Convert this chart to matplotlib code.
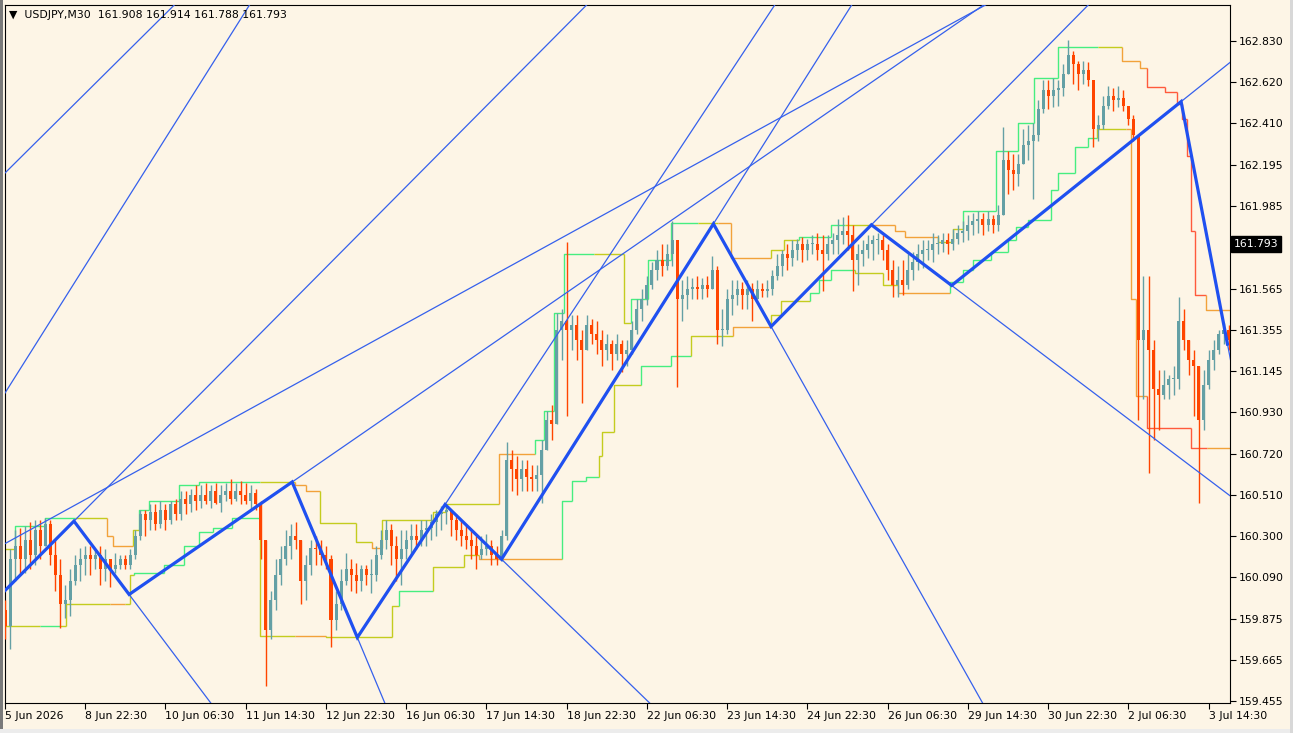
import numpy as np
import matplotlib.pyplot as plt
import matplotlib.transforms as mtransforms
from matplotlib.patches import Rectangle

BG = "#FDF5E6"
BULL = "#64A0A5"
BEAR = "#FF4500"
ZZ_COL = "#1F50F0"
RAY_COL = "#3560EC"
CH = {"G": "#46EE80", "Y": "#C4CC1E", "O": "#F2A23A", "R": "#FF5A3C"}

BAR_STEP = 4  # M30 bars per drawn candle
X_END = 977

# --- price data (USDJPY, one candle per 4 x M30) ---
open0 = 159.92
close = [
    159.84, 160.18, 160.25, 160.18, 160.28, 160.20, 160.33, 160.25, 160.36, 160.20,
    160.10, 159.95, 159.97, 160.07, 160.15, 160.18, 160.20, 160.18, 160.20, 160.13,
    160.18, 160.13, 160.15, 160.18, 160.15, 160.20, 160.30, 160.41, 160.38, 160.42,
    160.36, 160.43, 160.38, 160.46, 160.41, 160.49, 160.46, 160.51, 160.48, 160.51,
    160.48, 160.53, 160.47, 160.51, 160.53, 160.49, 160.53, 160.51, 160.48, 160.52,
    160.46, 160.28, 159.82, 159.97, 160.10, 160.18, 160.25, 160.30, 160.28, 160.07,
    160.15, 160.24, 160.23, 160.20, 160.18, 159.87, 159.95, 160.07, 160.13, 160.10,
    160.07, 160.13, 160.10, 160.10, 160.20, 160.28, 160.33, 160.25, 160.18, 160.23,
    160.28, 160.30, 160.28, 160.33, 160.34, 160.37, 160.41, 160.42, 160.43, 160.38,
    160.33, 160.30, 160.28, 160.25, 160.20, 160.23, 160.25, 160.20, 160.18, 160.30,
    160.69, 160.64, 160.59, 160.64, 160.60, 160.59, 160.61, 160.74, 160.89, 160.87,
    161.35, 161.40, 161.35, 161.38, 161.30, 161.25, 161.38, 161.33, 161.30, 161.25,
    161.28, 161.23, 161.28, 161.23, 161.25, 161.35, 161.46, 161.51, 161.58, 161.66,
    161.71, 161.68, 161.74, 161.81, 161.51, 161.53, 161.56, 161.57, 161.56, 161.58,
    161.56, 161.66, 161.35, 161.35, 161.51, 161.53, 161.56, 161.53, 161.56, 161.51,
    161.56, 161.55, 161.56, 161.63, 161.68, 161.74, 161.72, 161.76, 161.79, 161.76,
    161.79, 161.79, 161.76, 161.74, 161.79, 161.81, 161.84, 161.86, 161.84, 161.71,
    161.74, 161.76, 161.79, 161.81, 161.81, 161.76, 161.66, 161.58, 161.61, 161.58,
    161.66, 161.70, 161.74, 161.76, 161.76, 161.79, 161.79, 161.81, 161.79, 161.82,
    161.85, 161.86, 161.89, 161.91, 161.92, 161.89, 161.92, 161.89, 161.94, 162.22,
    162.17, 162.15, 162.20, 162.30, 162.32, 162.35, 162.48, 162.58, 162.55, 162.58,
    162.59, 162.66, 162.76, 162.71, 162.66, 162.68, 162.63, 162.38, 162.40, 162.50,
    162.55, 162.53, 162.54, 162.50, 162.43, 162.35, 161.30, 161.35, 161.25, 161.05,
    161.02, 161.07, 161.10, 161.10, 161.40, 161.30, 161.20, 161.17, 160.89, 161.07,
    161.20, 161.25, 161.33, 161.35, 161.30,
]
high = [
    159.97, 160.23, 160.33, 160.34, 160.35, 160.37, 160.38, 160.38, 160.39, 160.38,
    160.28, 160.18, 160.05, 160.13, 160.20, 160.24, 160.25, 160.25, 160.23, 160.25,
    160.23, 160.18, 160.21, 160.20, 160.20, 160.23, 160.33, 160.43, 160.43, 160.46,
    160.46, 160.48, 160.46, 160.48, 160.49, 160.53, 160.53, 160.54, 160.56, 160.56,
    160.57, 160.56, 160.57, 160.56, 160.57, 160.59, 160.57, 160.58, 160.57, 160.56,
    160.54, 160.48, 160.28, 160.02, 160.18, 160.25, 160.33, 160.36, 160.37, 160.28,
    160.20, 160.28, 160.30, 160.28, 160.25, 160.20, 160.02, 160.13, 160.21, 160.18,
    160.16, 160.15, 160.15, 160.18, 160.25, 160.33, 160.38, 160.36, 160.30, 160.33,
    160.33, 160.36, 160.36, 160.38, 160.38, 160.41, 160.43, 160.45, 160.46, 160.43,
    160.41, 160.38, 160.36, 160.33, 160.30, 160.30, 160.31, 160.28, 160.25, 160.33,
    160.78, 160.74, 160.71, 160.69, 160.69, 160.66, 160.66, 160.79, 160.94, 160.97,
    161.44, 161.46, 161.80, 161.43, 161.43, 161.35, 161.43, 161.41, 161.40, 161.35,
    161.33, 161.30, 161.33, 161.30, 161.30, 161.40, 161.51, 161.56, 161.63, 161.70,
    161.76, 161.79, 161.79, 161.91, 161.81, 161.61, 161.63, 161.62, 161.63, 161.62,
    161.63, 161.73, 161.68, 161.46, 161.56, 161.61, 161.61, 161.60, 161.61, 161.59,
    161.61, 161.59, 161.61, 161.66, 161.74, 161.76, 161.79, 161.81, 161.82, 161.83,
    161.82, 161.84, 161.85, 161.84, 161.84, 161.85, 161.92, 161.93, 161.94, 161.89,
    161.79, 161.81, 161.84, 161.84, 161.85, 161.84, 161.79, 161.71, 161.68, 161.71,
    161.74, 161.75, 161.79, 161.81, 161.81, 161.85, 161.84, 161.85, 161.85, 161.87,
    161.89, 161.91, 161.94, 161.95, 161.96, 161.95, 161.96, 161.94, 161.99, 162.39,
    162.27, 162.25, 162.25, 162.38, 162.40, 162.41, 162.53, 162.63, 162.63, 162.64,
    162.63, 162.71, 162.835, 162.78, 162.73, 162.73, 162.72, 162.63, 162.45, 162.55,
    162.60, 162.59, 162.60, 162.58, 162.50, 162.45, 162.35, 161.63, 161.63, 161.30,
    161.15, 161.15, 161.12, 161.17, 161.52, 161.46, 161.28, 161.25, 161.15, 161.15,
    161.25, 161.30, 161.35, 161.39, 161.38,
]
low = [
    159.77, 159.72, 160.07, 160.10, 160.11, 160.13, 160.15, 160.18, 160.25, 160.15,
    160.02, 159.83, 159.88, 159.89, 160.05, 160.07, 160.10, 160.10, 160.13, 160.05,
    160.07, 160.04, 160.11, 160.13, 160.13, 160.13, 160.18, 160.28, 160.30, 160.33,
    160.33, 160.34, 160.33, 160.36, 160.38, 160.38, 160.41, 160.42, 160.43, 160.44,
    160.46, 160.44, 160.46, 160.42, 160.48, 160.46, 160.48, 160.46, 160.46, 160.43,
    160.43, 160.18, 159.53, 159.77, 159.92, 160.05, 160.15, 160.18, 160.23, 159.95,
    159.97, 160.10, 160.15, 160.15, 160.13, 159.73, 159.82, 159.92, 160.05, 160.02,
    160.01, 160.02, 160.05, 160.01, 160.07, 160.18, 160.23, 160.15, 160.07, 160.05,
    160.18, 160.20, 160.23, 160.25, 160.25, 160.28, 160.30, 160.33, 160.36, 160.30,
    160.28, 160.25, 160.23, 160.18, 160.13, 160.18, 160.20, 160.15, 160.15, 160.17,
    160.28, 160.53, 160.51, 160.53, 160.53, 160.53, 160.53, 160.47, 160.79, 160.79,
    160.89, 161.20, 160.91, 161.25, 161.20, 160.98, 161.25, 161.28, 161.23, 161.17,
    161.20, 161.15, 161.20, 161.14, 161.17, 161.23, 161.33, 161.40, 161.48, 161.56,
    161.61, 161.63, 161.66, 161.68, 161.06, 161.40, 161.46, 161.51, 161.51, 161.51,
    161.52, 161.56, 161.28, 161.27, 161.33, 161.43, 161.48, 161.46, 161.46, 161.40,
    161.51, 161.52, 161.52, 161.53, 161.61, 161.63, 161.66, 161.68, 161.71, 161.70,
    161.71, 161.74, 161.71, 161.55, 161.71, 161.74, 161.74, 161.79, 161.76, 161.55,
    161.58, 161.68, 161.72, 161.71, 161.74, 161.71, 161.61, 161.52, 161.52, 161.53,
    161.56, 161.61, 161.66, 161.67, 161.71, 161.70, 161.74, 161.75, 161.74, 161.76,
    161.79, 161.80, 161.81, 161.84, 161.85, 161.84, 161.86, 161.85, 161.86, 161.97,
    162.05, 162.07, 162.09, 162.20, 162.22, 162.02, 162.32, 162.46, 162.48, 162.49,
    162.50, 162.55, 162.67, 162.61, 162.58, 162.61, 162.60, 162.29, 162.32, 162.38,
    162.48, 162.47, 162.49, 162.47, 162.40, 162.32, 160.89, 161.00, 160.62, 160.79,
    160.84, 161.00, 161.00, 161.02, 161.05, 161.25, 161.12, 160.91, 160.47, 160.84,
    161.05, 161.15, 161.23, 161.28, 161.25,
]

# --- channel indicator (step lines, coloured by state) ---
upper_start = [0, 8, 32, 56, 81, 86, 102, 107, 115, 139,
               155, 203, 231, 240, 251, 280, 293, 301, 341, 352,
               394, 423, 430, 438, 446, 470, 494, 499, 513, 531,
               553, 569, 579, 611, 621, 633, 659, 670, 689, 710,
               718, 744, 756, 764, 790, 808, 821, 840, 872, 891,
               905, 911, 925, 935, 939, 943, 946, 949, 958]
upper_level = [160.23, 160.35, 160.39, 160.39, 160.30, 160.25, 160.33, 160.43, 160.48, 160.56,
               160.575, 160.575, 160.56, 160.53, 160.365, 160.27, 160.24, 160.38, 160.42, 160.46,
               160.72, 160.79, 160.94, 161.44, 161.74, 161.74, 161.39, 161.51, 161.71, 161.90,
               161.90, 161.90, 161.72, 161.76, 161.81, 161.83, 161.89, 161.89, 161.89, 161.86,
               161.83, 161.80, 161.87, 161.96, 162.27, 162.41, 162.64, 162.80, 162.80, 162.73,
               162.69, 162.595, 162.57, 162.51, 162.43, 162.24, 161.86, 161.53, 161.455]
upper_color = ["Y", "G", "G", "Y", "O", "O", "Y", "G", "G", "G",
               "G", "Y", "O", "O", "Y", "Y", "O", "Y", "Y", "Y",
               "O", "G", "G", "G", "G", "Y", "Y", "G", "G", "G",
               "Y", "O", "O", "Y", "Y", "G", "G", "Y", "O", "O",
               "O", "Y", "Y", "G", "G", "G", "G", "G", "Y", "O",
               "O", "R", "R", "R", "R", "R", "R", "R", "O"]

lower_start = [0, 28, 44, 49, 84, 96, 100, 103, 127, 143,
               155, 166, 181, 203, 231, 256, 309, 314, 341, 366,
               378, 444, 452, 463, 474, 476, 486, 507, 531, 547,
               581, 611, 619, 642, 649, 659, 678, 700, 712, 754,
               764, 772, 786, 800, 806, 816, 834, 840, 853, 864,
               871, 894, 898, 902, 911, 946, 959]
lower_level = [159.84, 159.84, 159.84, 159.95, 159.95, 159.95, 160.10, 160.11, 160.15, 160.25,
               160.32, 160.34, 160.39, 159.79, 159.79, 159.78, 159.94, 160.02, 160.14, 160.20,
               160.18, 160.48, 160.58, 160.60, 160.71, 160.83, 161.07, 161.17, 161.22, 161.32,
               161.37, 161.43, 161.50, 161.54, 161.61, 161.66, 161.645, 161.58, 161.54, 161.60,
               161.66, 161.71, 161.75, 161.81, 161.88, 161.915, 162.07, 162.155, 162.29, 162.335,
               162.38, 162.38, 161.51, 161.015, 160.85, 160.75, 160.75]
lower_color = ["Y", "G", "Y", "Y", "O", "Y", "Y", "G", "G", "G",
               "G", "G", "G", "Y", "O", "Y", "Y", "G", "Y", "Y",
               "O", "G", "G", "G", "Y", "Y", "Y", "G", "G", "Y",
               "O", "Y", "Y", "G", "G", "G", "Y", "Y", "O", "G",
               "G", "G", "G", "G", "G", "G", "G", "G", "G", "G",
               "Y", "O", "O", "O", "R", "R", "O"]

# --- zigzag pivots (bar index, price) ---
zz_bar = [0, 55, 99, 229, 281, 351, 396, 565, 611, 691, 755, 938, 975]
zz_price = [160.02, 160.375, 160.00, 160.575, 159.78, 160.46, 160.18,
            161.895, 161.37, 161.89, 161.58, 162.52, 161.28]

# older trend lines from pivots left of the window
old_bar0 = [0, 0, 0]
old_price0 = [162.155, 161.03, 160.26]
old_bar1 = [135, 195, 782]
old_price1 = [163.014, 163.014, 163.014]

x_labels = ["5 Jun 2026", "8 Jun 22:30", "10 Jun 06:30", "11 Jun 14:30",
            "12 Jun 22:30", "16 Jun 06:30", "17 Jun 14:30", "18 Jun 22:30",
            "22 Jun 06:30", "23 Jun 14:30", "24 Jun 22:30", "26 Jun 06:30",
            "29 Jun 14:30", "30 Jun 22:30", "2 Jul 06:30", "3 Jul 14:30"]
# 161.775 sits under the current-price tag
y_labels = ["159.455", "159.665", "159.875", "160.090", "160.300", "160.510",
            "160.720", "160.930", "161.145", "161.355", "161.565", "",
            "161.985", "162.195", "162.410", "162.620", "162.830"]
last_price = 161.793

fig = plt.figure(figsize=(12.93, 7.33), dpi=100, facecolor=BG)
ax = fig.add_axes([5 / 1293, 30 / 733, 1225 / 1293, 698 / 733])
ax.set_facecolor(BG)

# candles
c = np.array(close)
o = np.r_[open0, c[:-1]]
hi = np.maximum(np.array(high), np.maximum(o, c))
lo = np.minimum(np.array(low), np.minimum(o, c))
xs = np.arange(len(c)) * BAR_STEP
cols = np.where(c >= o, BULL, BEAR)
ax.vlines(xs, lo, hi, colors=cols, lw=1.0, zorder=3)
body = np.maximum(np.abs(c - o), 0.006)
ax.bar(xs, body, bottom=np.minimum(o, c), width=2.4, color=cols, lw=0, zorder=3)


def draw_steps(starts, levels, colours):
    ends = starts[1:] + [X_END]
    prev = None
    for b0, b1, p, k in zip(starts, ends, levels, colours):
        if prev is None:
            px, py = [b0, b1], [p, p]
        else:
            px, py = [b0, b0, b1], [prev, p, p]
        ax.plot(px, py, color=CH[k], lw=1.0, zorder=2, solid_capstyle="butt")
        prev = p


draw_steps(upper_start, upper_level, upper_color)
draw_steps(lower_start, lower_level, lower_color)

# rays: each zigzag leg extended forward
for i in range(len(zz_bar) - 1):
    db = zz_bar[i + 1] - zz_bar[i]
    dp = zz_price[i + 1] - zz_price[i]
    ax.plot([zz_bar[i], zz_bar[i] + 40 * db], [zz_price[i], zz_price[i] + 40 * dp],
            color=RAY_COL, lw=0.9, zorder=4)
for b0, p0, b1, p1 in zip(old_bar0, old_price0, old_bar1, old_price1):
    ax.axline((b0, p0), (b1, p1), color=RAY_COL, lw=0.9, zorder=4)

ax.plot(zz_bar, zz_price, color=ZZ_COL, lw=2.3, zorder=5, solid_joinstyle="miter")

ax.set_xlim(0, X_END)
ax.set_ylim(159.445, 163.014)

ax.set_xticks(np.arange(len(x_labels)) * 64)
ax.set_xticklabels(x_labels, fontsize=7.8)
for lbl in ax.get_xticklabels():
    lbl.set_horizontalalignment("left")
ax.yaxis.tick_right()
ax.set_yticks(np.linspace(159.455, 162.830, len(y_labels)))
ax.set_yticklabels(y_labels, fontsize=7.8)
ax.tick_params(axis="both", direction="out", length=4, width=0.8, colors="black", pad=2)
for s in ax.spines.values():
    s.set_color("black")
    s.set_linewidth(0.8)

# current price tag
tr = mtransforms.blended_transform_factory(ax.transAxes, ax.transData)
ax.text(1.0 + 4 / 1225, last_price, "161.793", transform=tr, ha="left", va="center",
        color="white", fontsize=7.8, zorder=10, clip_on=False,
        bbox=dict(boxstyle="square,pad=0.25", facecolor="black", edgecolor="black"))

# header
ax.text(4 / 1225, 1 - 10 / 698, "\u25bc  USDJPY,M30  161.908 161.914 161.788 161.793",
        transform=ax.transAxes, ha="left", va="center", fontsize=7.8, color="black", zorder=10)

# window frame
fig.add_artist(Rectangle((0, 0), 3 / 1293, 1, transform=fig.transFigure,
                         facecolor="#7A7A7A", edgecolor="none"))
fig.add_artist(Rectangle((0, 0), 1, 4 / 733, transform=fig.transFigure,
                         facecolor="#ECECEC", edgecolor="none"))
fig.add_artist(Rectangle((1 - 3 / 1293, 0), 3 / 1293, 1, transform=fig.transFigure,
                         facecolor="#D8D8D8", edgecolor="none"))

fig.savefig("out.png", dpi=100, facecolor=BG)
